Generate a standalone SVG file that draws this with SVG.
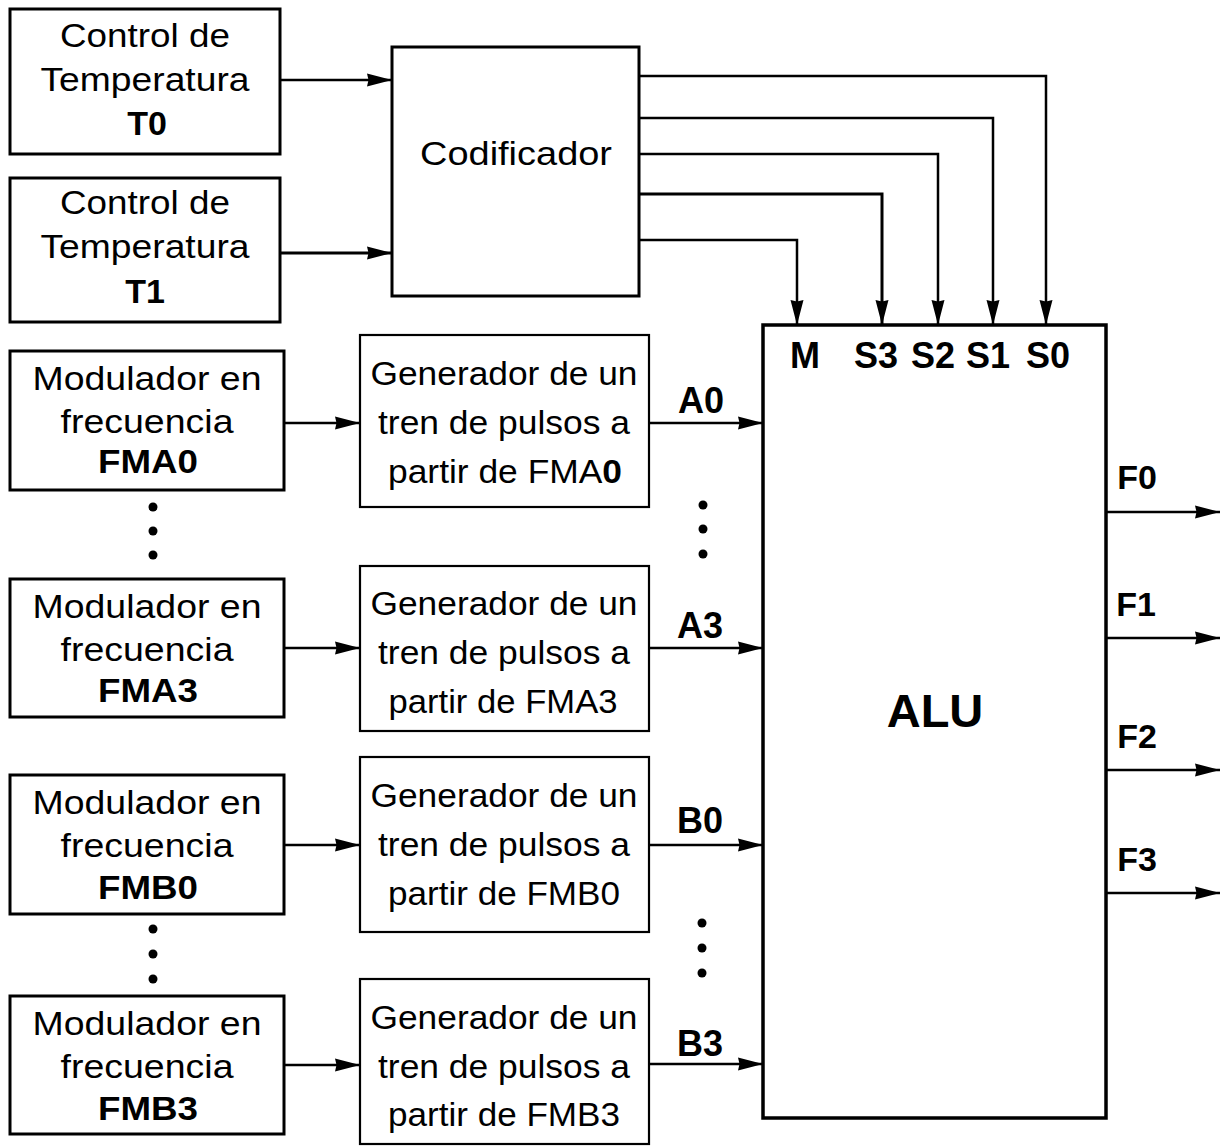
<svg xmlns="http://www.w3.org/2000/svg" width="1220" height="1146" viewBox="0 0 1220 1146">
<style>
.box{fill:#fff;stroke:#000;stroke-width:3}
.gen{fill:#fff;stroke:#000;stroke-width:2.2}
.t{font-family:"Liberation Sans",Arial,sans-serif;font-size:33px;fill:#000;text-anchor:middle}
.b{font-family:"Liberation Sans",Arial,sans-serif;font-size:34px;font-weight:bold;fill:#000;text-anchor:middle}
.l{font-family:"Liberation Sans",Arial,sans-serif;font-size:36px;font-weight:bold;fill:#000;text-anchor:middle}
.c{fill:none;stroke:#000;stroke-width:2.5;marker-end:url(#ah)}
.dot{fill:#000}
</style>
<defs>
<marker id="ah" markerUnits="userSpaceOnUse" markerWidth="28" markerHeight="16" refX="25" refY="7" orient="auto">
<path d="M0,0.5 L25,7 L0,13.5 L1.5,7 z" fill="#000"/>
</marker>
</defs>
<rect width="1220" height="1146" fill="#fff"/>

<g id="t0">
<rect class="box" x="10" y="9" width="270" height="145"/>
<text class="t" x="145" y="47" textLength="170" lengthAdjust="spacingAndGlyphs">Control de</text>
<text class="t" x="145" y="91" textLength="209" lengthAdjust="spacingAndGlyphs">Temperatura</text>
<text class="b" x="147" y="135">T0</text>
</g>
<g id="t1">
<rect class="box" x="10" y="178" width="270" height="144"/>
<text class="t" x="145" y="214" textLength="170" lengthAdjust="spacingAndGlyphs">Control de</text>
<text class="t" x="145" y="258" textLength="209" lengthAdjust="spacingAndGlyphs">Temperatura</text>
<text class="b" x="145" y="303">T1</text>
</g>
<g id="codificador">
<rect class="box" x="392" y="47" width="247" height="249"/>
<text class="t" x="516" y="165" textLength="192" lengthAdjust="spacingAndGlyphs">Codificador</text>
</g>

<g id="fma0">
<rect class="box" x="10" y="351" width="274" height="139"/>
<text class="t" x="147" y="390" textLength="229" lengthAdjust="spacingAndGlyphs">Modulador en</text>
<text class="t" x="147" y="433" textLength="173" lengthAdjust="spacingAndGlyphs">frecuencia</text>
<text class="b" x="148" y="473" textLength="100" lengthAdjust="spacingAndGlyphs">FMA0</text>
</g>
<g id="fma3">
<rect class="box" x="10" y="579" width="274" height="138"/>
<text class="t" x="147" y="618" textLength="229" lengthAdjust="spacingAndGlyphs">Modulador en</text>
<text class="t" x="147" y="661" textLength="173" lengthAdjust="spacingAndGlyphs">frecuencia</text>
<text class="b" x="148" y="702" textLength="100" lengthAdjust="spacingAndGlyphs">FMA3</text>
</g>
<g id="fmb0">
<rect class="box" x="10" y="775" width="274" height="139"/>
<text class="t" x="147" y="814" textLength="229" lengthAdjust="spacingAndGlyphs">Modulador en</text>
<text class="t" x="147" y="857" textLength="173" lengthAdjust="spacingAndGlyphs">frecuencia</text>
<text class="b" x="148" y="899" textLength="100" lengthAdjust="spacingAndGlyphs">FMB0</text>
</g>
<g id="fmb3">
<rect class="box" x="10" y="996" width="274" height="138"/>
<text class="t" x="147" y="1035" textLength="229" lengthAdjust="spacingAndGlyphs">Modulador en</text>
<text class="t" x="147" y="1078" textLength="173" lengthAdjust="spacingAndGlyphs">frecuencia</text>
<text class="b" x="148" y="1120" textLength="100" lengthAdjust="spacingAndGlyphs">FMB3</text>
</g>

<g id="gen_a0">
<rect class="gen" x="360" y="335" width="289" height="172"/>
<text class="t" x="504" y="385" textLength="267" lengthAdjust="spacingAndGlyphs">Generador de un</text>
<text class="t" x="504" y="434" textLength="252" lengthAdjust="spacingAndGlyphs">tren de pulsos a</text>
<text class="t" x="505" y="483" textLength="234" lengthAdjust="spacingAndGlyphs">partir de FMA<tspan font-weight="bold">0</tspan></text>
</g>
<g id="gen_a3">
<rect class="gen" x="360" y="566" width="289" height="165"/>
<text class="t" x="504" y="615" textLength="267" lengthAdjust="spacingAndGlyphs">Generador de un</text>
<text class="t" x="504" y="664" textLength="252" lengthAdjust="spacingAndGlyphs">tren de pulsos a</text>
<text class="t" x="503" y="713" textLength="229" lengthAdjust="spacingAndGlyphs">partir de FMA3</text>
</g>
<g id="gen_b0">
<rect class="gen" x="360" y="757" width="289" height="175"/>
<text class="t" x="504" y="807" textLength="267" lengthAdjust="spacingAndGlyphs">Generador de un</text>
<text class="t" x="504" y="856" textLength="252" lengthAdjust="spacingAndGlyphs">tren de pulsos a</text>
<text class="t" x="504" y="905" textLength="232" lengthAdjust="spacingAndGlyphs">partir de FMB0</text>
</g>
<g id="gen_b3">
<rect class="gen" x="360" y="979" width="289" height="165"/>
<text class="t" x="504" y="1029" textLength="267" lengthAdjust="spacingAndGlyphs">Generador de un</text>
<text class="t" x="504" y="1078" textLength="252" lengthAdjust="spacingAndGlyphs">tren de pulsos a</text>
<text class="t" x="504" y="1126" textLength="232" lengthAdjust="spacingAndGlyphs">partir de FMB3</text>
</g>

<g id="alu">
<rect class="box" x="763" y="325" width="343" height="793" style="stroke-width:3.5"/>
<text class="l" x="805" y="368">M</text>
<text class="l" x="876" y="368">S3</text>
<text class="l" x="933" y="368">S2</text>
<text class="l" x="988" y="368">S1</text>
<text class="l" x="1048" y="368">S0</text>
<text class="b" x="935" y="727" style="font-size:47px">ALU</text>
</g>

<g id="connectors">
<path class="c" d="M280,80 H392"/>
<path class="c" d="M280,253 H392" style="stroke-width:3"/>
<path class="c" d="M639,76 H1046 V325"/>
<path class="c" d="M639,118 H993 V325"/>
<path class="c" d="M639,154 H938 V325"/>
<path class="c" d="M639,194 H882 V325" style="stroke-width:3"/>
<path class="c" d="M639,240 H797 V325"/>
<path class="c" d="M284,423 H360"/>
<path class="c" d="M284,648 H360"/>
<path class="c" d="M284,845 H360"/>
<path class="c" d="M284,1065 H360"/>
<path class="c" d="M649,423 H763"/>
<path class="c" d="M649,648 H763"/>
<path class="c" d="M649,845 H763"/>
<path class="c" d="M649,1064 H763"/>
<path class="c" d="M1106,512 H1220"/>
<path class="c" d="M1106,638 H1220"/>
<path class="c" d="M1106,770 H1220"/>
<path class="c" d="M1106,893 H1220"/>
<text class="l" x="701" y="413">A0</text>
<text class="l" x="700" y="638">A3</text>
<text class="l" x="700" y="833">B0</text>
<text class="l" x="700" y="1056">B3</text>
<text class="b" x="1137" y="489">F0</text>
<text class="b" x="1136" y="616">F1</text>
<text class="b" x="1137" y="748">F2</text>
<text class="b" x="1137" y="871">F3</text>
</g>

<g id="dots">
<circle class="dot" cx="153" cy="507" r="4.5"/>
<circle class="dot" cx="153" cy="531" r="4.5"/>
<circle class="dot" cx="153" cy="555" r="4.5"/>
<circle class="dot" cx="153" cy="929" r="4.5"/>
<circle class="dot" cx="153" cy="954" r="4.5"/>
<circle class="dot" cx="153" cy="979" r="4.5"/>
<circle class="dot" cx="703" cy="505" r="4.5"/>
<circle class="dot" cx="703" cy="529" r="4.5"/>
<circle class="dot" cx="703" cy="554" r="4.5"/>
<circle class="dot" cx="702" cy="923" r="4.5"/>
<circle class="dot" cx="702" cy="948" r="4.5"/>
<circle class="dot" cx="702" cy="973" r="4.5"/>
</g>
</svg>
